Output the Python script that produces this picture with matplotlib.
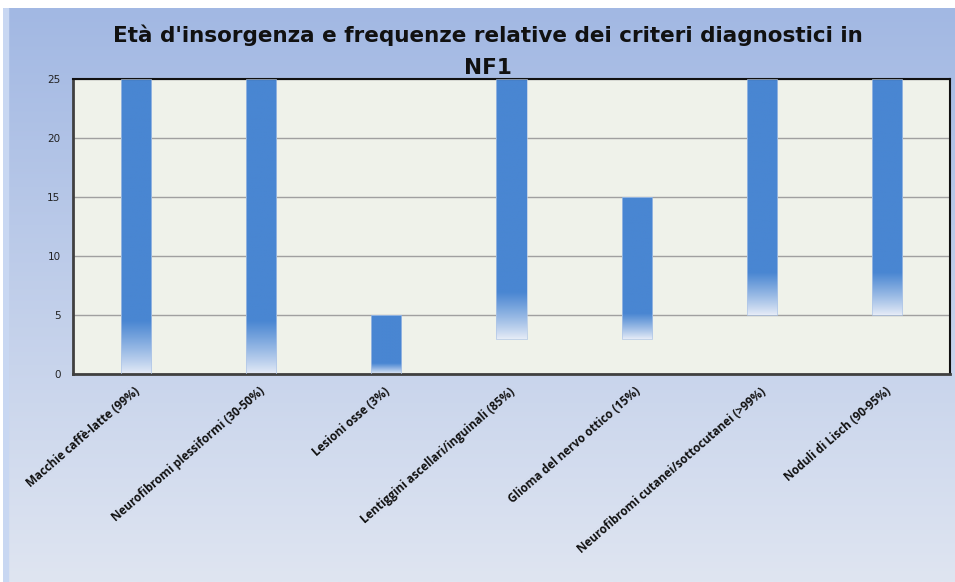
import numpy as np
import matplotlib
matplotlib.use("Agg")
import matplotlib.pyplot as plt
from matplotlib.colors import to_rgb

categories = ["Macchie caffè-latte (99%)", "Neurofibromi plessiformi (30-50%)",
              "Lesioni osse (3%)", "Lentiggini ascellari/inguinali (85%)",
              "Glioma del nervo ottico (15%)", "Neurofibromi cutanei/sottocutanei (>99%)",
              "Noduli di Lisch (90-95%)"]
start_age = [0, 0, 0, 3, 3, 5, 5]
end_age = [25, 25, 5, 25, 15, 25, 25]
yticks = [0, 5, 10, 15, 20, 25]
title = "Età d'insorgenza e frequenze relative dei criteri diagnostici in\nNF1"

W, H = 955, 582
fig = plt.figure(figsize=(W / 100, H / 100), dpi=100)
fig.patch.set_facecolor("white")

# figure background gradient
bg = fig.add_axes([0.003, 0.0, 0.997, 0.986], zorder=-10)
top = np.array(to_rgb("#a2b8e3"))
bot = np.array(to_rgb("#dfe5f1"))
t = np.linspace(0, 1, 256)[:, None]
grad = (top * (1 - t) + bot * t)[:, None, :]
bg.imshow(grad, aspect="auto", extent=[0, 1, 0, 1], origin="upper")
bg.axvspan(0, 0.005, color="#c8d7f2")
bg.set_axis_off()

ax = fig.add_axes([73 / W, 1 - 374 / H, (950 - 73) / W, (374 - 79) / H])
ax.set_facecolor("#eff2ea")
x = np.arange(len(categories))
heights = [e - s for s, e in zip(start_age, end_age)]
bars = ax.bar(x, heights, bottom=start_age, width=0.24, color="none",
              edgecolor="#b0c6e6", linewidth=0.5, zorder=3)

blue = np.array(to_rgb("#4986d2"))
light = np.array(to_rgb("#e6ecf7"))
tt = np.linspace(0, 1, 400)
f = np.clip(tt / 0.18, 0, 1) ** 0.9
col = (light * (1 - f[:, None]) + blue * f[:, None])[:, None, :]
for b in bars:
    x0, y0 = b.get_x(), b.get_y()
    im = ax.imshow(col, aspect="auto", origin="lower",
                   extent=[x0, x0 + b.get_width(), y0, y0 + b.get_height()],
                   zorder=2)
    im.set_clip_path(b)

ax.set_xlim(-0.5, len(categories) - 0.5)
ax.set_ylim(0, 25)
ax.set_yticks(yticks)
ax.set_yticklabels([str(v) for v in yticks], fontsize=7.5, color="#222222")
ax.yaxis.grid(True, color="#a0a0a0", linewidth=1.0, zorder=1)
ax.set_axisbelow(True)
ax.tick_params(axis="y", length=0, pad=9)
ax.tick_params(axis="x", length=0)
ax.set_xticks(x)
ax.set_xticklabels(categories, rotation=41, ha="right", rotation_mode="anchor",
                   fontsize=8.4, fontweight="bold", family="Open Sans",
                   color="#111111")
for lab in ax.get_xticklabels():
    lab.set_transform(lab.get_transform() +
                      matplotlib.transforms.ScaledTranslation(-2 / 100, -6 / 100, fig.dpi_scale_trans))
for s in ["left", "bottom"]:
    ax.spines[s].set_color("#404040")
    ax.spines[s].set_linewidth(2)
for s in ["top", "right"]:
    ax.spines[s].set_color("#111111")
    ax.spines[s].set_linewidth(1.5)

fig.text(488 / W, 1 - 51 / H, title, ha="center", va="center",
         fontsize=15.5, fontweight="bold",
         linespacing=1.75, color="#111111")

fig.savefig("out.png", dpi=100)
